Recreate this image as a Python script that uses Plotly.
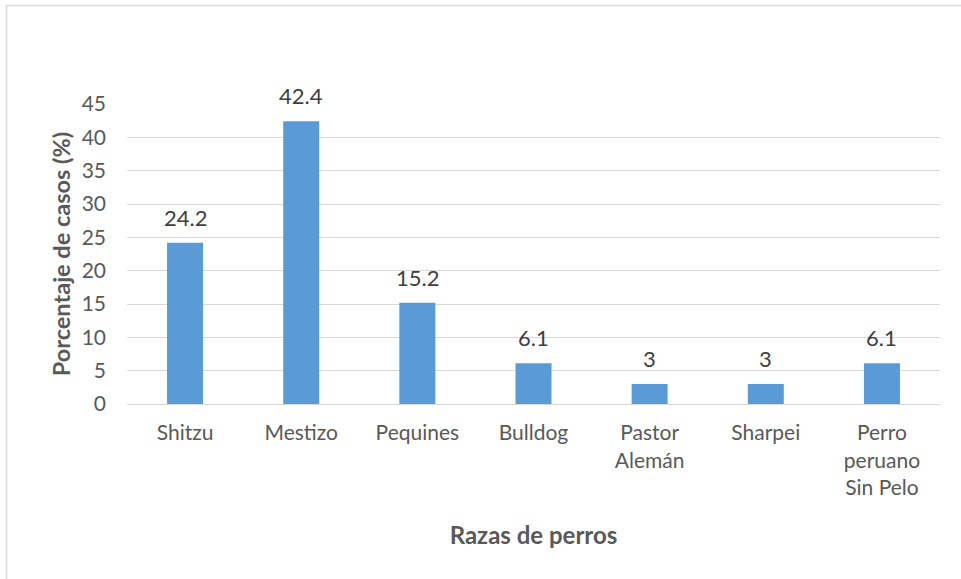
import plotly.graph_objects as go

categories = ["Shitzu", "Mestizo", "Pequines", "Bulldog", "Pastor<br>Alemán", "Sharpei", "Perro<br>peruano<br>Sin Pelo"]
values = [24.2, 42.4, 15.2, 6.1, 3, 3, 6.1]
y_ticks = [0, 5, 10, 15, 20, 25, 30, 35, 40, 45]

W, H = 961, 579
L, R, T, B = 127, 21, 104, 175
pw, ph = W - L - R, H - T - B
FONT = "Lato, Open Sans, sans-serif"
GRAY = "#595959"

def px_x(px):
    return (px - L) / pw

def px_y(py):
    return (H - B - py) / ph

fig = go.Figure(go.Bar(
    x=categories, y=values,
    marker=dict(color="#5B9BD5", line=dict(width=0)),
    cliponaxis=False,
))

for c, v in zip(categories, values):
    fig.add_annotation(
        x=c, y=v, text=str(v), showarrow=False, xref="x", yref="y",
        yanchor="bottom", yshift=10,
        font=dict(family=FONT, size=22, color="#404040"),
    )

fig.update_layout(
    width=W, height=H,
    margin=dict(l=L, r=R, t=T, b=B),
    paper_bgcolor="white", plot_bgcolor="white",
    bargap=0.69,
    showlegend=False,
    font=dict(family=FONT, color=GRAY),
    xaxis=dict(
        showgrid=False, showline=True, linecolor="#D9D9D9", linewidth=1,
        tickfont=dict(size=21, color=GRAY), ticks="", ticklabelstandoff=10,
        title=dict(text="<b>Razas de perros</b>", font=dict(size=24, color=GRAY), standoff=29),
    ),
    yaxis=dict(
        range=[0, 45], tickvals=y_ticks, showgrid=True, gridcolor="#D9D9D9", gridwidth=1,
        zeroline=False, showline=False,
        tickfont=dict(size=21, color=GRAY), ticks="", ticklabelstandoff=20,
        title=dict(text="<b>Porcentaje de casos (%)</b>", font=dict(size=23.5, color=GRAY), standoff=4),
    ),
    shapes=[dict(
        type="rect", xref="paper", yref="paper",
        x0=px_x(6.5), x1=px_x(1000), y0=px_y(650), y1=px_y(5.5),
        line=dict(color="#D9D9D9", width=1.5), fillcolor="rgba(0,0,0,0)", layer="below",
    )],
)

fig.write_html("out.html", config={"displayModeBar": False},
               post_script="document.body.style.margin='0';")
